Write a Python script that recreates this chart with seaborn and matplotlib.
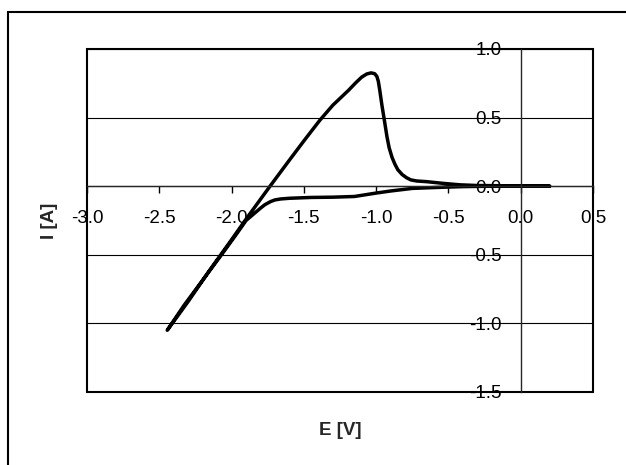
import numpy as np
import pandas as pd
import matplotlib
matplotlib.use("Agg")
import matplotlib.pyplot as plt
import matplotlib.patches as patches
import seaborn as sns

# Cathodic sweep (0.2 V -> -2.45 V)
e_down = [0.2, 0.0, -0.2, -0.4, -0.55, -0.75, -0.9, -1.0, -1.15, -1.3, -1.45,
          -1.6, -1.66, -1.7, -1.73, -1.77, -1.8, -1.85, -1.9, -1.97, -2.07,
          -2.2, -2.33, -2.445]
i_down = [0.0, 0.0, 0.0, -0.003, -0.008, -0.016, -0.035, -0.05, -0.075, -0.08, -0.082,
          -0.088, -0.093, -0.10, -0.112, -0.135, -0.16, -0.205, -0.25, -0.355, -0.50,
          -0.685, -0.87, -1.05]

# Anodic sweep (-2.45 V -> 0.2 V)
e_up = [-2.3, -2.15, -2.0, -1.9, -1.734, -1.6, -1.5, -1.39, -1.3, -1.25, -1.19,
        -1.14, -1.1, -1.065, -1.035, -1.01, -0.995, -0.985, -0.975, -0.96, -0.94,
        -0.925, -0.91, -0.89, -0.87, -0.85, -0.82, -0.79, -0.76, -0.72, -0.65,
        -0.54, -0.42, -0.3, -0.1, 0.0, 0.2]
i_up = [-0.84, -0.61, -0.39, -0.24, 0.0, 0.19, 0.33, 0.48, 0.59, 0.64, 0.70,
        0.755, 0.795, 0.818, 0.826, 0.82, 0.80, 0.765, 0.70, 0.59, 0.46,
        0.36, 0.28, 0.21, 0.16, 0.12, 0.085, 0.062, 0.046, 0.038, 0.033,
        0.021, 0.01, 0.005, 0.003, 0.003, 0.0]

x_ticks = [-3.0, -2.5, -2.0, -1.5, -1.0, -0.5, 0.0, 0.5]
y_ticks = [1.0, 0.5, 0.0, -0.5, -1.0, -1.5]

cv = pd.DataFrame({"E": e_down + e_up, "I": i_down + i_up})

sns.set_style("white")
plt.rcParams["font.family"] = ["Liberation Sans", "DejaVu Sans"]

fig = plt.figure(figsize=(6.26, 4.65), dpi=100)
ax = fig.add_axes([87 / 626, 1 - 392 / 465, 506 / 626, 343 / 465])

sns.lineplot(data=cv, x="E", y="I", sort=False, estimator=None,
             color="black", lw=2.5, ax=ax)

ax.set_xlim(-3.0, 0.5)
ax.set_ylim(-1.5, 1.0)
ax.set_xticks(x_ticks)
ax.set_yticks(y_ticks)
ax.set_xticklabels([f"{v:.1f}" for v in x_ticks])
ax.set_yticklabels([f"{v:.1f}" for v in y_ticks])

# axes cross at the origin, plot area gets its own frame
ax.spines["left"].set_position(("data", 0))
ax.spines["bottom"].set_position(("data", 0))
ax.spines["top"].set_visible(False)
ax.spines["right"].set_visible(False)
ax.spines["left"].set_linewidth(1.0)
ax.spines["bottom"].set_linewidth(1.0)
ax.add_patch(patches.Rectangle((0, 0), 1, 1, transform=ax.transAxes,
                               fill=False, lw=1.5, ec="black", clip_on=False))

ax.yaxis.grid(True, color="black", lw=0.8)
ax.xaxis.grid(False)
ax.tick_params(axis="x", direction="out", length=5, width=1, pad=12,
               labelsize=13.5, colors="black", bottom=True)
ax.tick_params(axis="y", length=0, pad=14, labelsize=13.5, colors="black")

ax.set_xlabel("E [V]", fontsize=13.5, fontweight="bold")
ax.set_ylabel("I [A]", fontsize=13.5, fontweight="bold")
ax.xaxis.set_label_coords(0.5, -0.087)
ax.yaxis.set_label_coords(-0.057, 0.5)

# outer chart frame
fig.patches.append(patches.Rectangle((8 / 626, -0.1), 1.0, 1 - 12 / 465 + 0.1,
                                     transform=fig.transFigure, fill=False,
                                     lw=1.5, ec="black"))

plt.savefig("out.png", dpi=100)
